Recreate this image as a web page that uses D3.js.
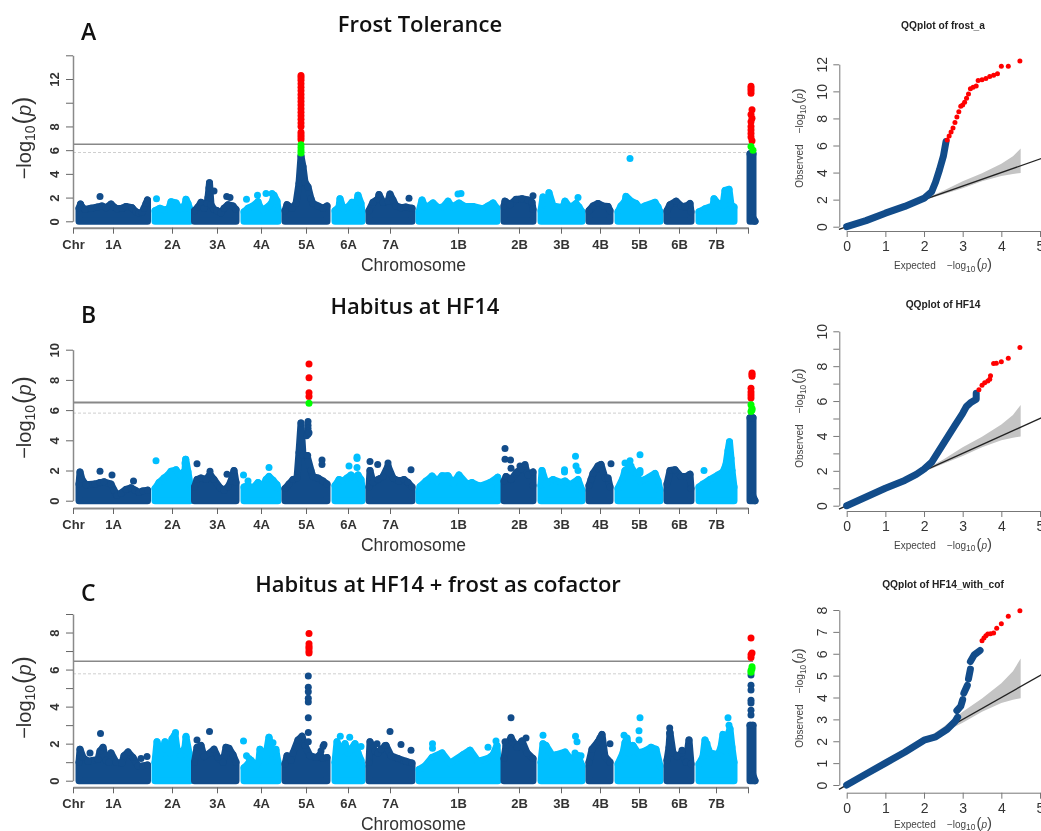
<!DOCTYPE html>
<meta charset="utf-8">
<script src="https://d3js.org/d3.v7.min.js"></script>
<style>
  html, body { margin: 0; background: #fff; }
  svg { display: block; filter: blur(0.4px); }
  text { font-family: "Liberation Sans", Arial, sans-serif; fill: #333; }
  .head { font-family: "Open Sans", sans-serif; font-weight: 600; fill: #111; }
</style>
<div id="my_dataviz"></div>
<script>

// chromosome axis, positions are in px-like genome units
const chrTicks = [0, 40, 99, 144, 188, 233, 275, 317, 385, 446, 488, 527, 566, 606, 643, 675];
const chrLabels = ["Chr", "1A", "2A", "3A", "4A", "5A", "6A", "7A", "1B", "2B", "3B", "4B", "5B", "6B", "7B", ""];

// upper outline of the dot cloud, one list per chromosome, [position, -log10(p)]
const cloudA = [
  [[6,1.1],[7.5,1.45],[9,1.2],[12,1],[18,1.1],[24,1.2],[29,1.3],[33,1.15],[38,1.45],[41,1.2],[44,1.05],[49,1.1],[53,1.25],[59,1.15],[63,.8],[66,.7],[69,.75],[71,1.1],[73,1.5],[74.5,1.8]],
  [[82,.9],[87,1.1],[92,.95],[96,1.1],[98,1.65],[103,1.55],[107,1],[112,1.4],[113,1.85],[115,1.5],[117,1]],
  [[121.5,.9],[125,1.2],[128,1.6],[131,1.1],[134,1.5],[135,2],[136.5,3.25],[138,1.4],[141,1],[144,.9],[148,.7],[151,1.1],[155,1.4],[160,1.3],[163,1]],
  [[171,.8],[175,1.1],[180,1.3],[185,1.65],[187,1.2],[190,.95],[196,1.3],[199,1.6],[201,2.2],[204,1.7],[205,1]],
  [[212,.9],[214,1.4],[219,1.1],[223,1.5],[226,3.2],[228,5.5],[230,4.6],[232,3.3],[235,2.9],[238,1.9],[240,1.5],[245,1.3],[250,1.1],[254,1.3]],
  [[262,.9],[266,1.2],[267,1.9],[270,1.1],[275,1.2],[279,1.6],[283,1.35],[285,2.2],[288,1.5],[289,.8]],
  [[296,.9],[300,1.6],[305,1.9],[306,2.25],[310,1.6],[315,1.7],[317,2.3],[320,1.8],[323,1.3],[328,1.15],[333,1.2],[339,1.1]],
  [[346,.8],[349,1.8],[352,1.2],[356,1.3],[360,1.55],[365,1.15],[370,1.2],[375,1.7],[379,1.2],[386,1.55],[392,1.25],[400,1.25],[410,1.05],[415,1.3],[420,1.55],[424,1.1]],
  [[431,1.3],[432,1.7],[437,1.4],[443,1.85],[449,1.9],[455,1.8],[459,1.6],[460,1]],
  [[468,.9],[470,2.05],[475,1.4],[476,2.4],[480,1.3],[490,1.15],[492,1.7],[497,1.15],[503,1.5],[506,1.2],[509,.8]],
  [[516,.9],[520,1.3],[525,1.5],[530,1.3],[535,1.25],[537,.9]],
  [[545,.8],[548,1.3],[552,1.7],[553,2.1],[558,1.7],[563,1.5],[567,1.1],[572,1.3],[582,1.6],[585,1.2],[587,.8]],
  [[594,.9],[597,1.4],[603,1.7],[608,1.3],[612,1.2],[617,1.5],[618,.8]],
  [[626,.8],[632,1.05],[640,1.3],[641,1.9],[645,1.5],[650,1.35],[652,2.6],[656,2.7],[658,1.4],[661,1.2]],
  [[677,5.7],[680,5.7],[680,.3],[682,0]]
];
const cloudB = [
  [[6,1.1],[7,1.9],[9,1.4],[13,1.05],[22,1.1],[27,1.2],[31,1.25],[38,1.1],[41,.7],[44,.35],[48,.5],[53,.75],[58,.85],[62,.7],[66,.55],[70,.65],[74.5,.7]],
  [[82,.8],[86,1.2],[91,1.5],[95,1.7],[98,1.95],[103,2.05],[107,1.7],[112,2],[112.7,2.75],[115,1.9],[117,1.1]],
  [[121.5,.9],[124,1.4],[128,1.5],[133,1.4],[137,1.75],[141,1.4],[147,.85],[151,.7],[155,.9],[158,1.3],[161,2],[163,1.2]],
  [[171,.9],[175,1],[180,.85],[185,1.2],[190,.95],[193,1.4],[196,1.6],[200,1.35],[204,1.05],[205,.8]],
  [[212,.8],[216,1.1],[220,1.4],[224,1.5],[226,3.2],[228,5.15],[230,3],[234,3],[238,2],[240,1.6],[245,1.5],[250,1.3],[254,1.1]],
  [[262,1],[266,1.4],[270,1.3],[274,1.5],[278,1.7],[282,1.45],[285,1.7],[288,1.4],[289,.9]],
  [[296,.9],[297,2],[300,1.2],[305,1.4],[310,1.6],[315,2.3],[320,1.5],[326,1.3],[331,1.4],[335,1.2],[339,.9]],
  [[346,.6],[347,.93],[353,1.3],[359,1.63],[364,1.3],[369,1.65],[375,1.65],[380,1.15],[386,1.7],[394,1.1],[399,1.2],[407,.95],[417,1.2],[424.7,1.55]],
  [[431,1.3],[433,1.6],[438,1.4],[444,1.9],[448,2.1],[452,2.3],[455,1.7],[460,1.9],[460,1]],
  [[468,1],[469,2],[473,1.15],[480,1.4],[488,1.2],[492,1.3],[497,1.05],[505,1.4],[509,.7]],
  [[516,1],[518,1.4],[520,1.8],[525,2.3],[528,2.4],[532,1.5],[535,1.5],[537,.9]],
  [[545,.8],[550,1.5],[552,2],[556,2.2],[559,2.1],[563,1.8],[567,1.3],[572,1.4],[582,1.8],[585,1.3],[587,.7]],
  [[594,1.1],[597,2],[602,2.05],[608,1.6],[613,1.6],[617,1.75],[618,.8]],
  [[626,.9],[630,1.1],[637,1.4],[645,1.7],[650,1.9],[653,2.4],[655,3.3],[656.5,3.9],[658,2.8],[659,2],[661,.9]],
  [[677,5.5],[680,5.5],[680,.3],[682,0]]
];
const cloudC = [
  [[6,1],[7,1.7],[10,1.25],[15,1.05],[25,1.15],[27,1.6],[30,1.8],[33,1.1],[36,1],[38,1.5],[43,1],[49,.95],[51,1.35],[55,1.55],[60,1.25],[65,.8],[70,.8],[74.5,.85]],
  [[82,1],[84,2.1],[88,1.4],[92,2.1],[97,1.5],[99,2.25],[102,2.5],[104,1.7],[108,1.35],[112,1.8],[113,2.35],[116,1.5],[117,.9]],
  [[121.5,1],[124,1.8],[128,1.9],[131,1.3],[137,1.5],[141,1.7],[145,1.25],[150,1],[153,1.8],[156,1.75],[160,1.4],[163,1]],
  [[171,.7],[175,.9],[178,1.1],[183,.8],[186,1.1],[187,1.7],[192,1.05],[196,2.35],[199,1.5],[203,1.6],[205,1]],
  [[212,.9],[214,1.35],[218,1.1],[220,1.5],[225,2.2],[229,2.4],[232,1.9],[237,1.35],[243,1.25],[247,1.4],[250,1.2],[254,1.25]],
  [[262,1],[264,2.1],[268,1.6],[272,2],[275,1.5],[278,1.7],[282,2],[285,1.5],[288,1.1],[289,.8]],
  [[296,1],[297,2.1],[302,1.6],[305,1.5],[308,1.7],[313,1.9],[318,1.35],[325,1.2],[333,1.05],[339,.95]],
  [[346,.6],[352,.8],[359,1.25],[369,1.5],[377,.95],[390,1.4],[397,1.65],[405,1.05],[415,1.2],[420,1.4],[424,1.9],[425,1]],
  [[431,1.2],[433,1.9],[438,2.3],[444,1.8],[449,2.15],[454,1.5],[460,1.2]],
  [[468,1],[470,2],[473,1.9],[480,1.3],[483,1.4],[492,1.55],[497,1.2],[505,1.35],[509,.8]],
  [[516,1],[519,1.7],[525,2.1],[529,2.5],[532,1.3],[537,1]],
  [[545,.9],[550,1.5],[552,2.05],[554,2.3],[556,1.5],[560,1.9],[565,1.5],[572,1.6],[578,1.8],[583,1.7],[587,.8]],
  [[594,1.1],[596,1.8],[597,2.6],[600,1.5],[604,1.3],[609,1.5],[613,1],[616,2.2],[618,.9]],
  [[626,.9],[630,1.3],[632,2.2],[637,1.5],[645,1.4],[648,1.8],[650,2.5],[653,1.6],[655,2.5],[657,2.8],[659,1.8],[661,1]],
  [[677,3],[680,3],[680,.3],[682,0]]
];

// single dots above the cloud, [chromosome index, position, -log10(p)]
const singlesA = [
  [0,27,2.1],[1,83.5,1.9],[2,136,2.8],[2,141,2.55],[2,153.7,2.1],[2,157,2],[3,173.5,1.85],[3,184.5,2.2],[3,193,2.35],[3,199,2.35],
  [6,336,1.95],[7,388,2.35],[7,385,2.3],[8,460,2.15],[9,505,2],[11,557,5.3],[12,612,1.3]
];
const singlesB = [
  [0,27,1.95],[0,39,1.7],[0,60.5,1.3],[1,83,2.65],[1,112,2.5],[2,124,2.45],[2,137,1.95],[2,154,1.75],[3,170.5,1.7],[3,175,1.3],[3,196,2.2],
  [4,235,5.25],[4,235,5],[4,235,4.8],[4,235,4.6],[4,235,4.4],[4,233.5,4.3],[4,236,4.5],[4,234.7,3],[4,249,2.7],[4,249,2.4],
  [5,276,2.3],[5,284,2.9],[5,284,2.8],[5,284,2.2],[6,297,2.6],[6,304.7,2.4],[6,315,2.5],[6,338,2.05],
  [8,432,3.45],[8,432,2.75],[8,437.5,2.7],[8,438,2.15],[8,447,2.3],[8,452,2.4],[9,491.5,2.05],[9,491.5,1.9],[9,502.5,2.95],[9,503,2.3],[9,505,2],
  [10,538,2.45],[11,552,2.5],[11,557,2.65],[11,567,3.05],[11,567,2],[11,567,1.85],[11,558,2.3],[13,631,2]
];
const singlesC = [
  [0,27.5,2.55],[0,17,1.5],[0,68,1.2],[0,74,1.3],[1,102.5,2.6],[1,113,2.4],[2,124,2.2],[2,136.5,2.65],[3,170.5,2.15],[3,173.5,1.35],[3,176,1.2],[3,200,2.05],[3,203,1.7],
  [4,235.3,5.65],[4,235.3,5.05],[4,235.3,4.8],[4,235.3,4.45],[4,235.3,4.25],[4,235.3,3.4],[4,235.3,2.6],[4,235.3,2.1],[4,248,1.6],[4,250,1.85],[4,251,1.95],
  [5,267.3,2.4],[5,276.7,2.35],[5,288,1.85],[6,304,2],[6,312,1.9],[6,317,2.65],[6,328,1.95],[6,338,1.65],
  [7,359.5,2],[7,359.5,1.75],[7,415,1.8],[7,423,2.15],[8,432,2.1],[8,438,3.4],[8,438,2.35],[8,453,2.3],[9,470,2.45],[9,502.5,2.4],[9,504,2.1],[9,502,1.5],[9,508,1.35],
  [10,527,2.3],[10,537,2],[11,551,2.45],[11,553,2.1],[11,566,2.7],[11,566,2.2],[11,567,3.4],[12,596.7,2.85],[12,596.7,2.55],[12,609,1.65],[13,634,2],[13,655,3.4],[13,656,3],
  [14,678,5.7],[14,678,5.15],[14,678,4.9],[14,678,4.35],[14,678,4.2],[14,678,3.8],[14,678,3.55]
];

// hits over the threshold, [position, -log10(p)]
const redA = [[228,12.3],[228,12.1],[228,11.9],[228,11.6],[228,11.3],[228,11],[228,10.7],[228,10.4],[228,10.1],[228,9.8],[228,9.5],[228,9.2],[228,8.9],[228,8.6],[228,8.3],[228,8],[228,7.5],[228,7.3],[228,7.1],[228,6.9],
  [678,11.4],[678,11.2],[678,11],[678,10.8],[679,9.4],[678,9],[679,8.7],[678,8.4],[678,8],[678,7.7],[678,7.4],[678,7.1],[679,6.8]];
const greenA = [[228,6.45],[228,6.2],[228,5.95],[228,5.75],[678,6.3],[680,6]];
const redB = [[236,9.05],[236,8.15],[236,7.15],[236,6.9],[679,8.45],[679,8.35],[679,8.25],[678,7.45],[678,7.2],[678,7],[678,6.8]];
const greenB = [[236,6.45],[678,6.35],[679,6.1],[679,6],[678,5.9]];
const redC = [[236,7.95],[236,7.4],[236,7.25],[236,7.15],[236,7],[236,6.9],[678,7.7],[679,6.9],[678,6.8],[678,6.65]];
const greenC = [[679,6.15],[679,6.05],[678,5.95],[678,5.85]];

// significance lines
const solidLine = [6.5, 6.5, 6.45];
const dashLine = [5.8, 5.8, 5.77];

// QQ plots, [expected, observed], blue runs are drawn as thick lines
const qqBlueA = [[[0,0],[.5,.45],[1,1],[1.5,1.5],[2,2.1],[2.2,2.6],[2.3,3.3],[2.4,4.2],[2.5,5.2],[2.57,6.3]]];
const qqRedA = [[2.6,6.4],[2.65,6.7],[2.7,7],[2.75,7.3],[2.8,7.7],[2.85,8.1],[2.9,8.5],[2.95,8.9],[3,9],[3.05,9.2],[3.1,9.5],[3.15,9.8],[3.2,10.2],[3.27,10.3],[3.35,10.4],[3.4,10.8],[3.5,10.85],[3.6,10.95],[3.7,11.1],[3.8,11.2],[3.9,11.3],[4,11.85],[4.18,11.85],[4.48,12.25]];
const qqBlueB = [[[0,0],[.5,.5],[1,1],[1.5,1.45],[1.8,1.8],[2,2.1],[2.2,2.5],[2.4,3.2],[2.6,3.9],[2.8,4.6],[3,5.3],[3.1,5.7],[3.2,5.9],[3.35,6.1],[3.35,6.45]]];
const qqRedB = [[3.42,6.65],[3.5,6.9],[3.57,7.05],[3.65,7.15],[3.7,7.25],[3.72,7.45],[3.8,8.15],[3.87,8.17],[4,8.25],[4.18,8.45],[4.48,9.07]];
const qqBlueC = [[[0,0],[.5,.5],[1,1],[1.5,1.5],[2,2.05],[2.3,2.2],[2.6,2.55],[2.8,2.9],[2.87,3.1]],[[2.85,3.4],[2.95,3.6],[3,3.9]],[[3.03,4.2],[3.12,4.55]],[[3.15,4.85],[3.2,5.3]],[[3.2,5.65],[3.3,5.95],[3.45,6.15]]];
const qqRedC = [[3.5,6.6],[3.55,6.72],[3.6,6.82],[3.65,6.9],[3.72,6.92],[3.8,6.95],[3.88,7.17],[4,7.37],[4.18,7.72],[4.48,7.97]];

// confidence band shared by the QQ plots
const bandX = [2,2.5,3,3.5,4,4.3,4.5];
const bandUp = [2.05,2.65,3.35,3.95,4.65,5.2,5.78];
const bandLow = [1.95,2.4,2.85,3.35,3.75,3.9,3.97];

const dark = "#124c8a", light = "#00bfff";

const svg = d3.select("#my_dataviz").append("svg").attr("width", 1041).attr("height", 831);

// writes -log10(p) into a text element
function logLabel(t, size) {
  t.append("tspan").text("\u2212log");
  t.append("tspan").attr("font-size", size * .7).attr("dy", size * .22).text("10");
  t.append("tspan").attr("font-size", size * 1.25).attr("dy", -size * .22).attr("dx", 1).text("(");
  t.append("tspan").attr("font-style", "italic").text("p");
  t.append("tspan").attr("font-size", size * 1.25).text(")");
}

function manhattan(p) {
  const g = svg.append("g");
  const x = d3.scaleLinear().domain([0, 675]).range([73, 748]);
  const y = d3.scaleLinear().domain([0, p.top]).range([p.y0, p.y1]);
  const r = 3.5;

  g.append("line").attr("x1", x(0)).attr("x2", x(680)).attr("y1", y(p.dash)).attr("y2", y(p.dash))
    .attr("stroke", "#cfcfcf").attr("stroke-dasharray", "3,2");
  g.append("line").attr("x1", x(0)).attr("x2", x(680)).attr("y1", y(p.solid)).attr("y2", y(p.solid))
    .attr("stroke", "#888").attr("stroke-width", p.solidW);

  const area = d3.area().x(d => x(d[0])).y0(y(0)).y1(d => y(d[1]));
  p.cloud.forEach((pts, i) => {
    const col = i % 2 ? light : dark;
    g.append("path").attr("d", area(pts)).attr("fill", col)
      .attr("stroke", col).attr("stroke-width", 2 * r).attr("stroke-linejoin", "round");
    g.append("g").selectAll("circle").data(pts).join("circle")
      .attr("cx", d => x(d[0])).attr("cy", d => y(d[1])).attr("r", r).attr("fill", col);
  });
  g.append("g").selectAll("circle").data(p.singles).join("circle")
    .attr("cx", d => x(d[1])).attr("cy", d => y(d[2])).attr("r", r)
    .attr("fill", d => d[0] % 2 ? light : dark);
  g.append("g").selectAll("circle").data(p.red).join("circle")
    .attr("cx", d => x(d[0])).attr("cy", d => y(d[1])).attr("r", r).attr("fill", "#ff0000");
  g.append("g").selectAll("circle").data(p.green).join("circle")
    .attr("cx", d => x(d[0])).attr("cy", d => y(d[1])).attr("r", r).attr("fill", "#00ff00");

  // axes
  const xAxis = g.append("g").attr("transform", `translate(0,${p.axisY})`)
    .call(d3.axisBottom(x).tickValues(chrTicks).tickFormat((d, i) => chrLabels[i]).tickSize(6).tickSizeOuter(0));
  xAxis.select(".domain").attr("stroke", "#8a8a8a").attr("stroke-width", 2);
  xAxis.selectAll("line").attr("stroke", "#666");
  xAxis.selectAll("text").attr("font-size", 13).attr("font-weight", "bold").attr("dy", 0).attr("y", 21).style("font-family", null);

  const yAxis = g.append("g").attr("transform", "translate(73,0)")
    .call(d3.axisLeft(y).tickValues(p.yTicks).tickFormat(d => p.yLabels.includes(d) ? d : "").tickSize(7).tickSizeOuter(0));
  yAxis.select(".domain").attr("stroke", "#8a8a8a").attr("stroke-width", 1.5);
  yAxis.selectAll("line").attr("stroke", "#666");
  yAxis.selectAll("text").attr("font-size", 13).attr("font-weight", "bold")
    .attr("x", 0).attr("dy", ".36em").attr("text-anchor", "middle").attr("transform", "translate(-19,0) rotate(-90)");

  // titles
  svg.append("text").attr("class", "head").attr("x", p.titleX).attr("y", p.titleY).attr("text-anchor", "middle").attr("font-size", 22).text(p.title);
  svg.append("text").attr("class", "head").attr("x", 81).attr("y", p.letterY).attr("font-size", 23).text(p.letter);
  svg.append("text").attr("x", 413.5).attr("y", p.axisY + 43).attr("text-anchor", "middle").attr("font-size", 17.5).text("Chromosome");
  const yl = svg.append("text").attr("transform", `translate(31,${p.labelY}) rotate(-90)`).attr("text-anchor", "middle").attr("font-size", 20);
  logLabel(yl, 20);
}

function qqplot(q) {
  const g = svg.append("g");
  const x = d3.scaleLinear().domain([0, 5]).range([846.7, 1040]);
  const y = d3.scaleLinear().domain([0, q.top]).range([q.y0, q.y1]);

  const band = d3.area().x((d, i) => x(bandX[i])).y0((d, i) => y(bandLow[i])).y1(d => y(d));
  g.append("path").attr("d", band(bandUp)).attr("fill", "#c4c4c4");
  g.append("line").attr("x1", x(-.2)).attr("y1", y(-.2)).attr("x2", x(5.2)).attr("y2", y(5.2))
    .attr("stroke", "#222").attr("stroke-width", 1.3);

  const line = d3.line().x(d => x(d[0])).y(d => y(d[1]));
  q.blue.forEach(run => {
    g.append("path").attr("d", line(run)).attr("fill", "none").attr("stroke", dark)
      .attr("stroke-width", 7).attr("stroke-linecap", "round").attr("stroke-linejoin", "round");
  });
  g.append("g").selectAll("circle").data(q.red).join("circle")
    .attr("cx", d => x(d[0])).attr("cy", d => y(d[1])).attr("r", 2.5).attr("fill", "#ff0000");

  const xAxis = g.append("g").attr("transform", `translate(0,${q.axisY})`)
    .call(d3.axisBottom(x).tickValues([0, 1, 2, 3, 4, 5]).tickFormat(d => d).tickSize(6).tickSizeOuter(0));
  xAxis.select(".domain").attr("stroke", "#777");
  xAxis.selectAll("line").attr("stroke", "#777");
  xAxis.selectAll("text").attr("font-size", 14).attr("y", 10).style("font-family", null);

  const yAxis = g.append("g").attr("transform", "translate(839.3,0)")
    .call(d3.axisLeft(y).tickValues(q.yTicks).tickFormat(d => q.yLabels.includes(d) ? d : "").tickSize(6).tickSizeOuter(0));
  yAxis.select(".domain").attr("stroke", "#777");
  yAxis.selectAll("line").attr("stroke", "#777");
  yAxis.selectAll("text").attr("font-size", 14)
    .attr("x", 0).attr("dy", ".36em").attr("text-anchor", "middle").attr("transform", "translate(-17,0) rotate(-90)");

  svg.append("text").attr("x", 943).attr("y", q.titleY).attr("text-anchor", "middle")
    .attr("font-size", 10.2).attr("font-weight", "bold").style("fill", "#222").text(q.title);
  const xl = svg.append("text").attr("x", 943).attr("y", q.xLabelY).attr("text-anchor", "middle").attr("font-size", 10).style("fill", "#444");
  xl.append("tspan").text("Expected");
  xl.append("tspan").text("\u00a0\u00a0\u00a0\u00a0");
  logLabel(xl, 12);
  const yl = svg.append("text").attr("transform", `translate(803,${q.labelY}) rotate(-90)`).attr("text-anchor", "middle").attr("font-size", 10).style("fill", "#444");
  yl.append("tspan").text("Observed");
  yl.append("tspan").text("\u00a0\u00a0\u00a0\u00a0");
  logLabel(yl, 12);
}

manhattan({cloud: cloudA, singles: singlesA, red: redA, green: greenA, solid: solidLine[0], dash: dashLine[0], solidW: 1.3,
  top: 14, y0: 221.3, y1: 55.3, axisY: 227.7, yTicks: d3.range(0, 15, 2), yLabels: [0, 2, 4, 6, 8, 12],
  title: "Frost Tolerance", titleX: 420, titleY: 32, letter: "A", letterY: 40, labelY: 138});
manhattan({cloud: cloudB, singles: singlesB, red: redB, green: greenB, solid: solidLine[1], dash: dashLine[1], solidW: 2,
  top: 10, y0: 500.7, y1: 349.7, axisY: 508, yTicks: d3.range(0, 11, 2), yLabels: [0, 2, 4, 6, 8, 10],
  title: "Habitus at HF14", titleX: 415, titleY: 314, letter: "B", letterY: 323, labelY: 417.5});
manhattan({cloud: cloudC, singles: singlesC, red: redC, green: greenC, solid: solidLine[2], dash: dashLine[2], solidW: 1.3,
  top: 9, y0: 780.7, y1: 614, axisY: 787.3, yTicks: d3.range(0, 10), yLabels: [0, 2, 4, 6, 8],
  title: "Habitus at HF14 + frost as cofactor", titleX: 438, titleY: 592, letter: "C", letterY: 601, labelY: 697.5});

qqplot({blue: qqBlueA, red: qqRedA, top: 12, y0: 226.7, y1: 64.3, axisY: 231, yTicks: d3.range(0, 13, 2), yLabels: d3.range(0, 13, 2),
  title: "QQplot of frost_a", titleY: 29, xLabelY: 269, labelY: 138});
qqplot({blue: qqBlueB, red: qqRedB, top: 10, y0: 505.7, y1: 331.3, axisY: 511, yTicks: d3.range(0, 11), yLabels: d3.range(0, 11, 2),
  title: "QQplot of HF14", titleY: 308, xLabelY: 548.5, labelY: 418});
qqplot({blue: qqBlueC, red: qqRedC, top: 8, y0: 785, y1: 610, axisY: 792.7, yTicks: d3.range(0, 9), yLabels: d3.range(0, 9),
  title: "QQplot of HF14_with_cof", titleY: 588, xLabelY: 827.5, labelY: 698});

</script>
